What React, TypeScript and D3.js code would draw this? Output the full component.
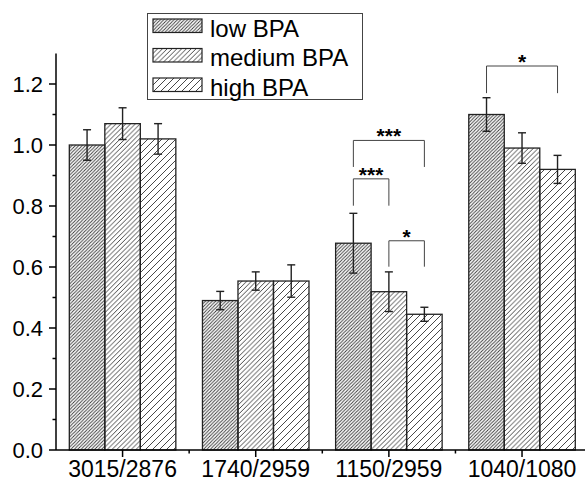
import React, { useRef, useEffect } from "react";
import * as d3 from "d3";

// chart data
const categories = ["3015/2876", "1740/2959", "1150/2959", "1040/1080"];
const seriesNames = ["low BPA", "medium BPA", "high BPA"];
const lowValues = [1.0, 0.49, 0.678, 1.1];
const lowErrors = [0.05, 0.03, 0.098, 0.055];
const mediumValues = [1.07, 0.554, 0.519, 0.99];
const mediumErrors = [0.052, 0.03, 0.065, 0.05];
const highValues = [1.02, 0.554, 0.445, 0.92];
const highErrors = [0.05, 0.053, 0.023, 0.046];
const yTicks = [0, 0.2, 0.4, 0.6, 0.8, 1.0, 1.2];
const yMinorTicks = [0.1, 0.3, 0.5, 0.7, 0.9, 1.1];

// significance brackets: category, from series, to series, top value, leg end value, label
const bracketCats = [2, 2, 2, 3];
const bracketFrom = [0, 0, 1, 0];
const bracketTo = [2, 1, 2, 2];
const bracketTop = [1.015, 0.889, 0.686, 1.259];
const bracketLegEnd = [0.928, 0.801, 0.601, 1.17];
const bracketLabels = ["***", "***", "*", "*"];

const hatchSpacing = [3.4, 4.8, 7];

export default function App() {
  const svgRef = useRef<SVGSVGElement>(null);

  useEffect(() => {
    const svg = d3.select(svgRef.current);
    svg.selectAll("*").remove();

    const width = 585;
    const font = "Liberation Sans, Arial, sans-serif";

    const x0 = d3.scaleBand<string>()
      .domain(categories)
      .range([56, 588.6])
      .paddingInner(0.2)
      .paddingOuter(0.1);
    const x1 = d3.scaleBand<string>()
      .domain(seriesNames)
      .range([0, x0.bandwidth()]);
    const y = d3.scaleLinear().domain([0, 1.3]).range([450, 53.5]);

    // hatch patterns
    const defs = svg.append("defs");
    hatchSpacing.forEach((s, i) => {
      defs.append("pattern")
        .attr("id", `hatch-${i}`)
        .attr("patternUnits", "userSpaceOnUse")
        .attr("width", s)
        .attr("height", s)
        .append("path")
        .attr("d", `M0,${s} L${s},0 M${-s / 2},${s / 2} L${s / 2},${-s / 2} M${s / 2},${s * 1.5} L${s * 1.5},${s / 2}`)
        .attr("stroke", "#333")
        .attr("stroke-width", 0.9);
    });

    const values = [lowValues, mediumValues, highValues];
    const errors = [lowErrors, mediumErrors, highErrors];

    const rows = categories.flatMap((c, ci) =>
      seriesNames.map((s, si) => ({ c, ci, s, si, v: values[si][ci], e: errors[si][ci] }))
    );

    const bx = (d: any) => (x0(d.c) as number) + (x1(d.s) as number);

    // bars
    svg.append("g")
      .selectAll("rect")
      .data(rows)
      .join("rect")
      .attr("x", bx)
      .attr("y", (d) => y(d.v))
      .attr("width", x1.bandwidth())
      .attr("height", (d) => y(0) - y(d.v))
      .attr("fill", (d) => `url(#hatch-${d.si})`)
      .attr("stroke", "#222")
      .attr("stroke-width", 1.3);

    // error bars
    const eb = svg.append("g").attr("stroke", "#222").attr("stroke-width", 1.4);
    rows.forEach((d) => {
      const cx = bx(d) + x1.bandwidth() / 2;
      eb.append("line").attr("x1", cx).attr("x2", cx).attr("y1", y(d.v + d.e)).attr("y2", y(d.v - d.e));
      eb.append("line").attr("x1", cx - 4).attr("x2", cx + 4).attr("y1", y(d.v + d.e)).attr("y2", y(d.v + d.e));
      eb.append("line").attr("x1", cx - 4).attr("x2", cx + 4).attr("y1", y(d.v - d.e)).attr("y2", y(d.v - d.e));
    });

    // significance brackets
    const br = svg.append("g");
    bracketLabels.forEach((lab, i) => {
      const c = categories[bracketCats[i]];
      const xa = (x0(c) as number) + (x1(seriesNames[bracketFrom[i]]) as number) + x1.bandwidth() / 2;
      const xb = (x0(c) as number) + (x1(seriesNames[bracketTo[i]]) as number) + x1.bandwidth() / 2;
      const yt = y(bracketTop[i]);
      const yl = y(bracketLegEnd[i]);
      br.append("path")
        .attr("d", `M${xa},${yl} V${yt} H${xb} V${yl}`)
        .attr("fill", "none")
        .attr("stroke", "#444")
        .attr("stroke-width", 1);
      br.append("text")
        .attr("x", (xa + xb) / 2)
        .attr("y", yt + 3)
        .attr("text-anchor", "middle")
        .attr("font-family", font)
        .attr("font-size", 21)
        .attr("font-weight", "bold")
        .text(lab);
    });

    // axes
    const ax = svg.append("g").attr("stroke", "#000").attr("stroke-width", 1.5);
    ax.append("line").attr("x1", 56).attr("x2", 56).attr("y1", y(1.3)).attr("y2", y(0));
    ax.append("line").attr("x1", 56).attr("x2", width).attr("y1", y(0)).attr("y2", y(0));
    yTicks.forEach((t) => {
      ax.append("line").attr("x1", 49).attr("x2", 56).attr("y1", y(t)).attr("y2", y(t));
    });
    yMinorTicks.forEach((t) => {
      ax.append("line").attr("x1", 52.5).attr("x2", 56).attr("y1", y(t)).attr("y2", y(t));
    });
    svg.append("g")
      .selectAll("text")
      .data(yTicks)
      .join("text")
      .attr("x", 43)
      .attr("y", (t) => y(t) + 8)
      .attr("text-anchor", "end")
      .attr("font-family", font)
      .attr("font-size", 22)
      .text((t) => d3.format(".1f")(t));

    categories.forEach((c, i) => {
      const cx = (x0(c) as number) + x0.bandwidth() / 2;
      ax.append("line").attr("x1", cx).attr("x2", cx).attr("y1", y(0)).attr("y2", y(0) + 7);
      if (i > 0) {
        const mx = (x0(c) as number) - (x0.step() - x0.bandwidth()) / 2;
        ax.append("line").attr("x1", mx).attr("x2", mx).attr("y1", y(0)).attr("y2", y(0) + 3.5);
      }
    });
    svg.append("g")
      .selectAll("text")
      .data(categories)
      .join("text")
      .attr("x", (c) => (x0(c) as number) + x0.bandwidth() / 2)
      .attr("y", 477)
      .attr("text-anchor", "middle")
      .attr("font-family", font)
      .attr("font-size", 23)
      .text((c) => c);

    // legend
    const lg = svg.append("g");
    lg.append("rect")
      .attr("x", 147.5).attr("y", 13.5).attr("width", 215).attr("height", 86)
      .attr("fill", "white").attr("stroke", "#444").attr("stroke-width", 1);
    seriesNames.forEach((s, i) => {
      const ry = 19 + i * 29.5;
      lg.append("rect")
        .attr("x", 153).attr("y", ry).attr("width", 49).attr("height", 13.5)
        .attr("fill", `url(#hatch-${i})`).attr("stroke", "#222").attr("stroke-width", 1.2);
      lg.append("text")
        .attr("x", 210).attr("y", ry + 17.5)
        .attr("font-family", font)
        .attr("font-size", 24)
        .text(s);
    });
  }, []);

  return (
    <svg
      ref={svgRef}
      width={585}
      height={483}
      style={{ position: "absolute", left: 0, top: 0, background: "white" }}
    />
  );
}
